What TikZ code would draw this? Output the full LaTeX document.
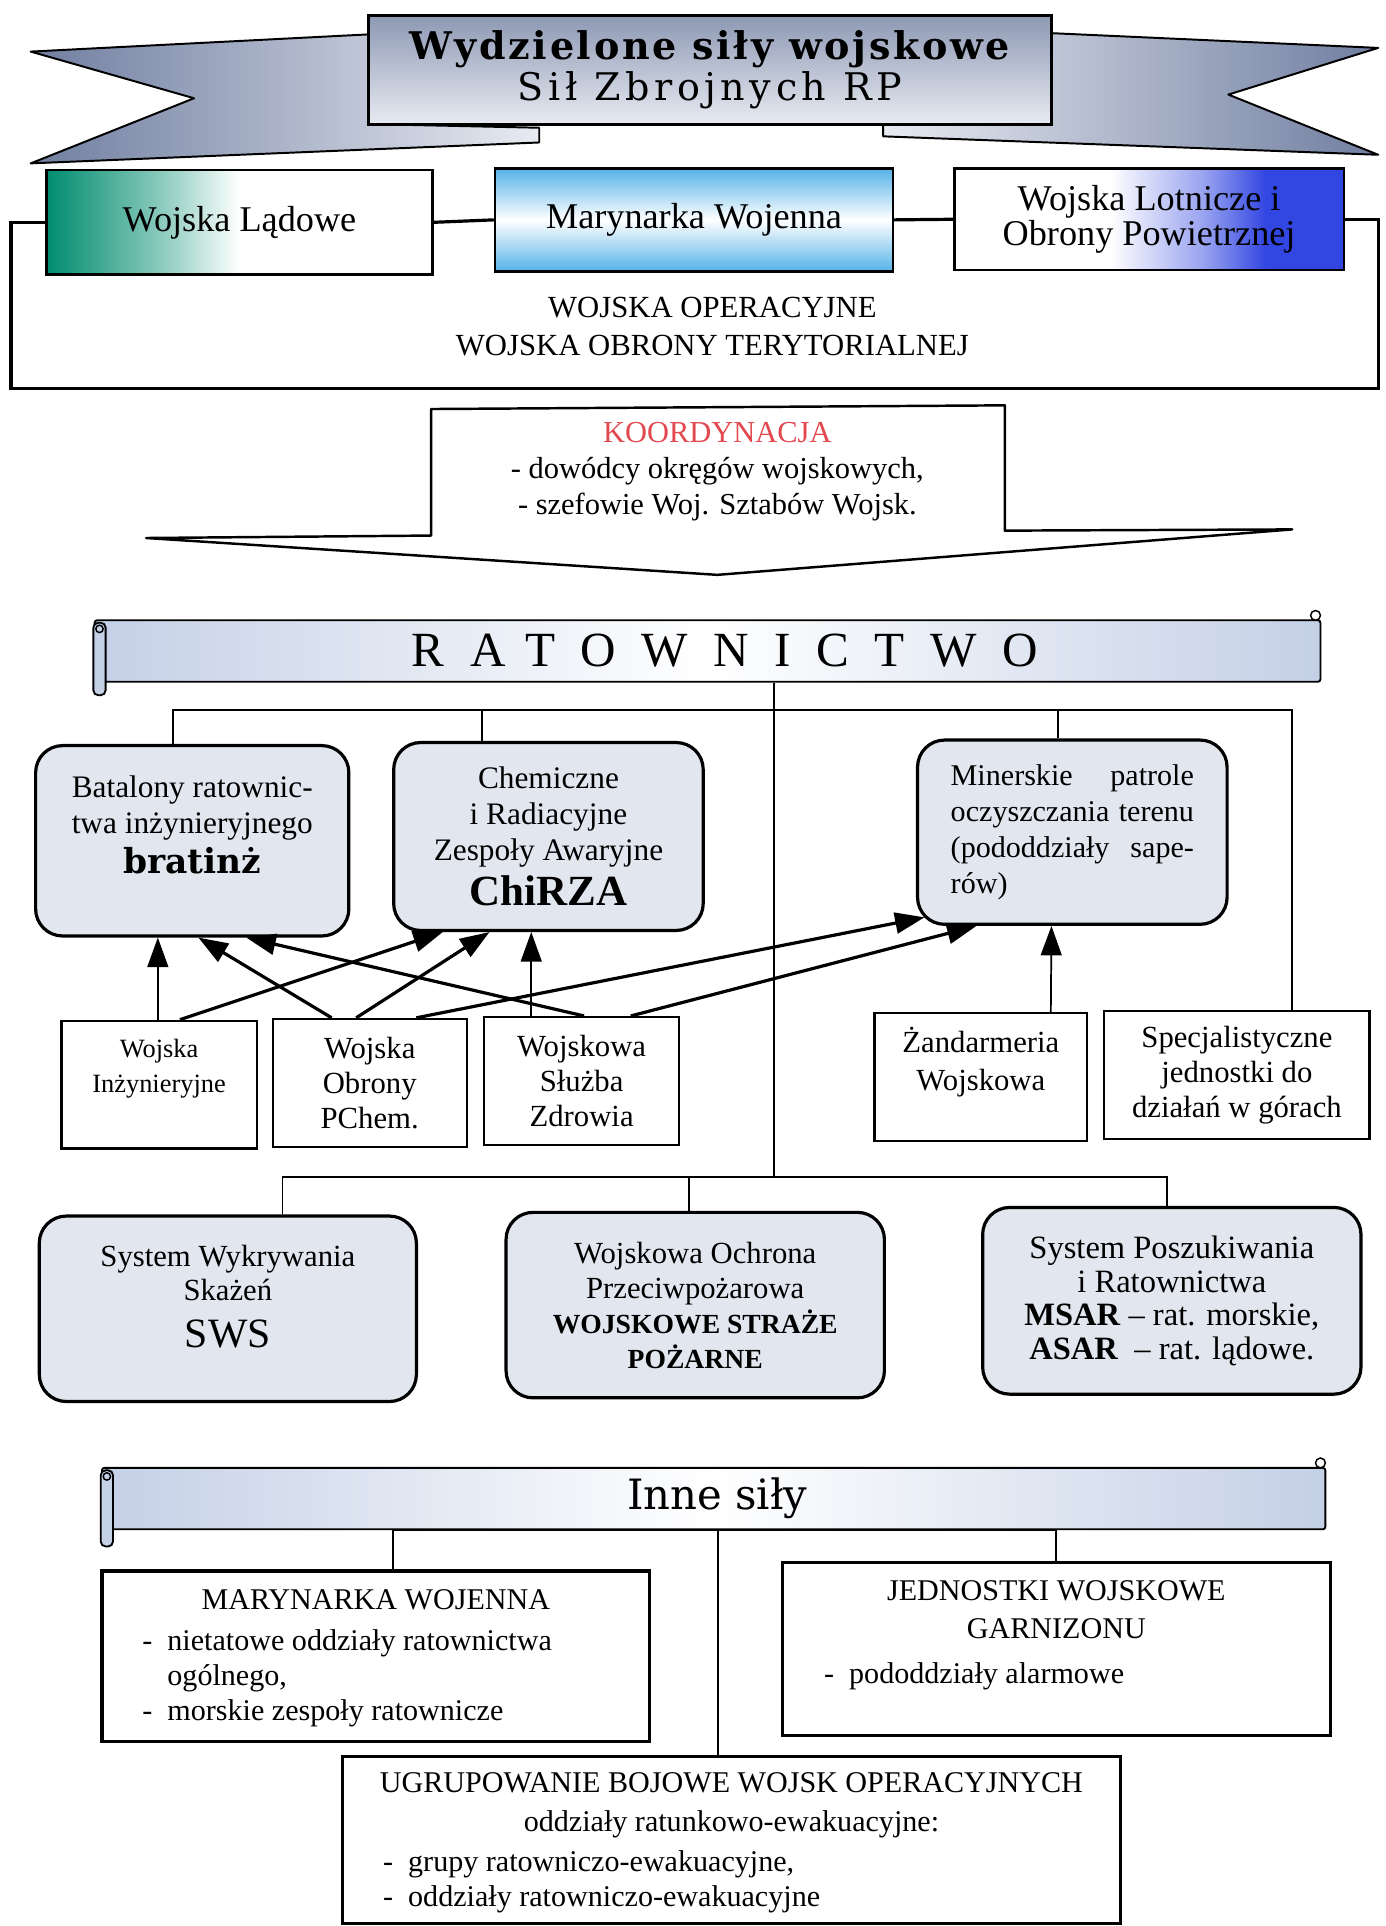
\documentclass[tikz,border=0pt]{standalone}
\usepackage{fontspec}
\setmainfont{Liberation Serif}
\newfontfamily\tytul{DejaVu Serif}
\usepackage{tikz}
\usetikzlibrary{arrows.meta}
\usetikzlibrary{shapes,positioning}

\definecolor{stal}{RGB}{112,126,160}
\definecolor{staljasna}{RGB}{232,235,242}
\definecolor{zielony}{RGB}{0,140,110}
\colorlet{zielonyjasny}{zielony!45}
\definecolor{morski}{RGB}{85,178,232}
\definecolor{lotniczy}{RGB}{50,70,225}
\colorlet{lotniczyjasny}{lotniczy!50}
\definecolor{zwojkolor}{RGB}{196,208,230}
\definecolor{tlo}{RGB}{226,231,239}
\definecolor{czerwony}{RGB}{226,72,78}

\pgfdeclarehorizontalshading{ladowe}{100bp}{color(0bp)=(zielony); color(25bp)=(zielony); color(40bp)=(zielonyjasny); color(50bp)=(white); color(100bp)=(white)}
\pgfdeclarehorizontalshading{lotnicze}{100bp}{color(0bp)=(white); color(45bp)=(white); color(57bp)=(lotniczyjasny); color(65bp)=(lotniczy); color(100bp)=(lotniczy)}

\begin{document}
\begin{tikzpicture}[x=1pt, y=-1pt]
            \tikzstyle{wstega} = [draw, line width=1.6pt, line join=round]
            \tikzstyle{naglowek} = [draw, line width=2pt, minimum width=556pt, minimum height=89pt, top color=stal!80, bottom color=staljasna, align=center, font=\tytul\fontsize{31}{33}\selectfont]
            \tikzstyle{sila} = [draw, line width=2pt, inner sep=0pt, align=center, font=\fontsize{29.5}{28}\selectfont]
            \tikzstyle{ramka} = [line width=2.6pt]
            \tikzstyle{zwoj} = [draw, line width=1.5pt, left color=zwojkolor, right color=zwojkolor, middle color=white, minimum height=50pt, rounded corners=2pt]
            \tikzstyle{zespol} = [draw, line width=2.6pt, rounded corners=22pt, fill=tlo, align=center, font=\fontsize{25.5}{29.5}\selectfont]
            \tikzstyle{jednostka} = [draw, line width=1.8pt, minimum height=104pt, align=center, font=\fontsize{25}{28.5}\selectfont]
            \tikzstyle{grupa} = [draw, line width=2.6pt]
            \tikzstyle{tekst} = [align=center, font=\fontsize{25}{31}\selectfont]
            \tikzstyle{lista} = [align=left, inner sep=0pt, font=\fontsize{24.5}{28.5}\selectfont]
            \tikzstyle{linia} = [line width=1.5pt]
            \tikzstyle{strzalka} = [line width=2.6pt, -{Triangle[length=24pt,width=17pt]}]
            \tikzstyle{pion} = [line width=1.4pt, -{Triangle[length=24pt,width=17pt]}]

            \fill[white] (0,0) rectangle (1128,1568);
            \useasboundingbox (0,0) rectangle (1128,1568);

            \draw[wstega, left color=stal, right color=staljasna] (25,42) -- (300,28) -- (300,101) -- (439,104) -- (439,116) -- (25,133) -- (158,80) -- cycle;
            \draw[wstega, left color=staljasna, right color=stal] (856,27) -- (1122,39) -- (1000,77) -- (1122,126) -- (719,111) -- (719,101) -- (856,100) -- cycle;
            \node[naglowek] (naglowek) at (578,57) {{\bfseries\addfontfeature{LetterSpace=7}Wydzielone siły wojskowe}\\{\addfontfeature{LetterSpace=12}Sił Zbrojnych RP}};

            \node[sila, shade, shading=ladowe, minimum width=314pt, minimum height=85pt] (ladowe) at (195,181) {Wojska Lądowe};
            \node[sila, top color=morski, bottom color=morski, middle color=white, minimum width=324pt, minimum height=84pt] (marynarka) at (565,179) {Marynarka Wojenna};
            \node[sila, shade, shading=lotnicze, minimum width=317pt, minimum height=83pt] (lotnicze) at (935.5,178.5) {Wojska Lotnicze i\\Obrony Powietrznej};

            \coordinate (ramkaLD) at (9,316);
            \coordinate (ramkaPD) at (1122,316);
            \draw[ramka] (ladowe.west) -| (ramkaLD) -- (ramkaPD) |- (lotnicze.east);
            \draw[ramka] (ladowe.east) -- (marynarka.west);
            \draw[ramka] (marynarka.east) -- (lotnicze.west);
            \node[tekst] (operacyjne) at (580,266) {WOJSKA OPERACYJNE\\WOJSKA OBRONY TERYTORIALNEJ};

            \draw[line width=2pt, line join=round] (351,333) -- (818,330) -- (818,432) -- (1052,431) -- (584,468) -- (119,438) -- (351,436) -- cycle;
            \node[tekst, font=\fontsize{24.8}{29}\selectfont] (koord) at (584,384) {{\color{czerwony}KOORDYNACJA}\\- dowódcy okręgów wojskowych,\\- szefowie Woj. Sztabów Wojsk.};

            \node[zwoj, minimum width=998pt] (ratownictwo) at (576,530) {};
            \node[font=\fontsize{40}{40}\selectfont] (ratownictwoT) at ([xshift=14]ratownictwo.center) {\addfontfeature{LetterSpace=52}RATOWNICTWO};
            \draw[line width=1.5pt, fill=zwojkolor, rounded corners=4pt] (76,507) rectangle (86,566);
            \draw[line width=1.2pt] (81,512) circle (3pt);
            \draw[line width=1.2pt, fill=white] (1071,501) circle (4pt);

            \node[zespol, minimum width=255pt, minimum height=155pt] (batal) at (156.5,684.5) {};
            \node[tekst, font=\fontsize{25.5}{29.5}\selectfont] at ([yshift=13]batal.center) {Batalony ratownic-\\twa inżynieryjnego\\[3pt]{\tytul\bfseries\fontsize{28}{28}\selectfont bratinż}};
            \node[zespol, minimum width=252pt, minimum height=153pt] (chem) at (446.5,681) {Chemiczne\\i Radiacyjne\\Zespoły Awaryjne\\[6pt]{\bfseries\fontsize{35}{35}\selectfont ChiRZA}};
            \node[zespol, minimum width=252pt, minimum height=150pt, text width=198pt, align=left, font=\fontsize{24.5}{29.5}\selectfont] (miner) at (873,677.5) {Minerskie\hfill patrole\\oczyszczania\hfill terenu\\(pododdziały\hfill sape-\\rów)};

            \node[jednostka, minimum width=159pt] (inz) at (129.5,883) {};
            \node[tekst, font=\fontsize{21.5}{29}\selectfont] at ([yshift=13]inz.center) {Wojska\\Inżynieryjne};
            \node[jednostka, minimum width=158pt] (obrony) at (301,881.5) {Wojska\\Obrony\\PChem.};
            \node[jednostka, minimum width=159pt] (zdrowia) at (473.5,880) {Wojskowa\\Służba\\Zdrowia};
            \node[jednostka, minimum width=173pt] (zand) at (798.5,877) {};
            \node[tekst, font=\fontsize{25}{31}\selectfont] at ([yshift=12]zand.center) {Żandarmeria\\Wojskowa};
            \node[jednostka, minimum width=216pt] (spec) at (1007,875) {Specjalistyczne\\jednostki do\\działań w górach};

            \node[zespol, minimum width=307pt, minimum height=151pt] (sws) at (185.5,1065.5) {};
            \node[tekst, font=\fontsize{25}{28}\selectfont] at ([yshift=10]sws.center) {System Wykrywania\\Skażeń\\[10pt]{\fontsize{34}{34}\selectfont SWS}};
            \node[zespol, minimum width=308pt, minimum height=151pt, font=\fontsize{25}{28.5}\selectfont] (ochrona) at (566,1062.5) {Wojskowa Ochrona\\Przeciwpożarowa\\{\bfseries\fontsize{22.5}{28.5}\selectfont WOJSKOWE STRAŻE}\\{\bfseries\fontsize{22.5}{28.5}\selectfont POŻARNE}};
            \node[zespol, minimum width=308pt, minimum height=152pt, font=\fontsize{26.5}{27.5}\selectfont] (msar) at (954,1059) {System Poszukiwania\\i Ratownictwa\\\textbf{MSAR} -- rat. morskie,\\\textbf{ASAR}\enspace -- rat. lądowe.};

            \coordinate (szynaA) at (630,578);
            \coordinate (szynaB) at (630,958);
            \draw[linia] (ratownictwo.south -| szynaB) -- (szynaB);
            \draw[linia] ([xshift=-16]batal.north) |- (szynaA);
            \draw[linia] ([xshift=-54]chem.north) |- (szynaA);
            \draw[linia] ([xshift=-12]miner.north) |- (szynaA);
            \draw[linia] ([xshift=45]spec.north) |- (szynaA);
            \draw[linia] ([xshift=44.5]sws.north) |- (szynaB);
            \draw[linia] ([xshift=-5]ochrona.north) |- (szynaB);
            \draw[linia] ([xshift=-4]msar.north) |- (szynaB);

            \draw[pion] ([xshift=-1]inz.north) -- ([xshift=-28]batal.south);
            \draw[strzalka] ([xshift=17]inz.north) -- ([xshift=-86]chem.south);
            \draw[strzalka] ([xshift=-31]obrony.north) -- ([xshift=5]batal.south);
            \draw[strzalka] ([xshift=-11]obrony.north) -- ([xshift=-48]chem.south);
            \draw[strzalka] ([xshift=38]obrony.north) -- ([xshift=7,yshift=7]miner.south west);
            \draw[strzalka] ([xshift=2]zdrowia.north) -- ([xshift=44]batal.south);
            \draw[pion] ([xshift=-41]zdrowia.north) -- ([xshift=-14]chem.south);
            \draw[strzalka] ([xshift=40]zdrowia.north) -- ([xshift=-78]miner.south);
            \draw[pion] ([xshift=57]zand.north) -- ([xshift=-17]miner.south);

            \node[zwoj, minimum width=996pt] (inne) at (581,1220) {};
            \node[font=\tytul\fontsize{34}{34}\selectfont] (inneT) at ([xshift=3]inne.center) {Inne siły};
            \draw[line width=1.5pt, fill=zwojkolor, rounded corners=4pt] (82,1197) rectangle (92,1259);
            \draw[line width=1.2pt] (87,1202) circle (3pt);
            \draw[line width=1.2pt, fill=white] (1075,1191) circle (4pt);

            \node[grupa, minimum width=446pt, minimum height=139pt] (mw) at (306,1348.5) {};
            \node[tekst, font=\fontsize{24.5}{28.5}\selectfont] at ([yshift=-25]mw.north) {MARYNARKA WOJENNA};
            \node[lista, anchor=west] at ([xshift=34,yshift=-18]mw.west) {-\enspace nietatowe oddziały ratownictwa\\\phantom{-\enspace}ogólnego,\\-\enspace morskie zespoły ratownicze};
            \node[grupa, minimum width=446pt, minimum height=141pt] (jedn) at (860,1342.5) {};
            \node[tekst, font=\fontsize{24.5}{31}\selectfont] at ([yshift=-40]jedn.north) {JEDNOSTKI WOJSKOWE\\GARNIZONU};
            \node[lista, anchor=west] at ([xshift=35,yshift=-22]jedn.west) {-\enspace pododdziały alarmowe};
            \node[grupa, minimum width=633pt, minimum height=136pt] (ugrup) at (595.5,1498) {};
            \node[tekst, font=\fontsize{24.5}{31}\selectfont] at ([yshift=-41]ugrup.north) {UGRUPOWANIE BOJOWE WOJSK OPERACYJNYCH\\oddziały ratunkowo-ewakuacyjne:};
            \node[lista, anchor=west] at ([xshift=34,yshift=-34]ugrup.west) {-\enspace grupy ratowniczo-ewakuacyjne,\\-\enspace oddziały ratowniczo-ewakuacyjne};

            \draw[linia] ([xshift=14]mw.north) |- (inne.south);
            \draw[linia] (jedn.north) |- (inne.south);
            \draw[linia] ([xshift=-11]ugrup.north) |- (inne.south);

        \end{tikzpicture}
\end{document}
